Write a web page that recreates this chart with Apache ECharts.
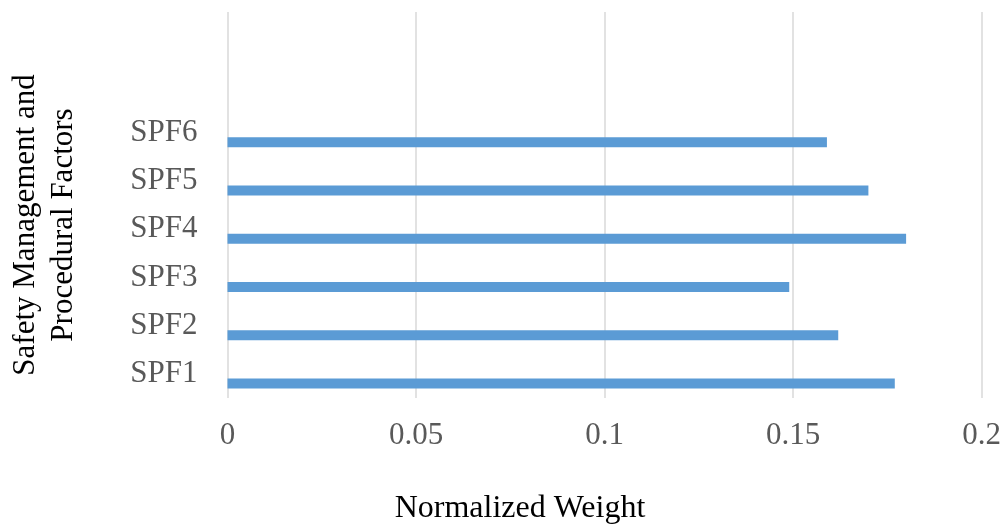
<!DOCTYPE html>
<html>
<head>
<meta charset="utf-8">
<script src="https://cdn.jsdelivr.net/npm/echarts@6/dist/echarts.min.js"></script>
<style>
html,body{margin:0;padding:0;background:#fff;}
#chart{width:1006px;height:527px;}
</style>
</head>
<body>
<div id="chart"></div>
<script>
var categories = ['SPF1','SPF2','SPF3','SPF4','SPF5','SPF6'];
var weights = [0.177, 0.162, 0.149, 0.180, 0.170, 0.159];
var xTicks = [0, 0.05, 0.1, 0.15, 0.2];
var xTitle = 'Normalized Weight';
var yTitle = 'Safety Management and\nProcedural Factors';

var FONT = '"Liberation Serif", "Times New Roman", serif';
var chart = echarts.init(document.getElementById('chart'));
var yCats = categories.concat(['', '']);
var emptySeries = yCats.map(function(){ return null; });

chart.setOption({
  animation: false,
  grid: {left: 227.5, right: 24.5, top: 12, bottom: 129, containLabel: false},
  xAxis: {
    type: 'value', min: 0, max: 0.2, interval: 0.05,
    axisLine: {show: false}, axisTick: {show: false},
    splitLine: {show: true, lineStyle: {color: '#d9d9d9', width: 1.5}},
    axisLabel: {
      fontFamily: FONT, fontSize: 31, color: '#595959', margin: 22,
      formatter: function(v){ return xTicks.indexOf(v) >= 0 ? String(v) : ''; }
    }
  },
  yAxis: {
    type: 'category', data: yCats,
    axisLine: {show: false}, axisTick: {show: false},
    splitLine: {show: false},
    axisLabel: {fontFamily: FONT, fontSize: 31, color: '#595959', margin: 30}
  },
  series: [
    {type: 'bar', data: emptySeries, barWidth: 10, barGap: '90%',
     itemStyle: {color: '#ed7d31'}},
    {type: 'bar', data: weights, barWidth: 10, barGap: '90%',
     itemStyle: {color: '#5b9bd5'}}
  ],
  graphic: [
    {type: 'text', x: 45, y: 225, rotation: Math.PI / 2,
     style: {text: yTitle, fontFamily: FONT, fontSize: 31, fill: '#000',
             textAlign: 'center', textVerticalAlign: 'middle', lineHeight: 38}},
    {type: 'text', x: 520, y: 509,
     style: {text: xTitle, fontFamily: FONT, fontSize: 32, fill: '#000',
             textAlign: 'center', textVerticalAlign: 'middle'}}
  ]
});
</script>
</body>
</html>
